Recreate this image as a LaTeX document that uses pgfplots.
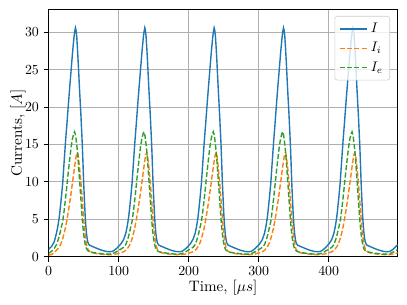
\documentclass[border=0pt]{standalone}
\usepackage{pgfplots}
\pgfplotsset{compat=1.18}
\usepackage{pgfplotstable}
\definecolor{tabblue}{HTML}{1F77B4}
\definecolor{taborange}{HTML}{FF7F0E}
\definecolor{tabgreen}{HTML}{2CA02C}
\pgfplotstableread{
t I Ii Ie
0 1.0 0.2 0.45
4 1.35 0.3 0.7
8 2.0 0.5 1.1
11 3.1 0.85 1.6
13 4.0 1.05 2.1
15 5.2 1.3 2.7
16 6.0 1.45 3.1
18 7.8 1.85 3.9
20 9.8 2.4 4.7
22 12.6 3.1 6.1
24 15.3 3.9 7.7
26 17.7 4.9 9.5
28 20.2 6.0 11.3
30 22.6 7.2 13.0
32 24.9 8.5 14.6
34 27.2 9.9 15.8
36 29.2 11.3 16.5
37 30.0 12.0 16.7
38.2 30.6 12.8 16.3
39 30.3 13.3 15.8
40 29.5 13.7 15.0
41 28.0 13.9 14.1
42 26.3 13.6 13.0
44 22.5 12.0 10.4
46 19.0 10.0 7.7
48 15.0 7.6 5.0
49 12.5 6.3 3.9
50 9.8 5.0 3.0
51 7.7 4.0 2.3
52 5.7 3.1 1.75
53 4.2 2.3 1.35
54 3.1 1.7 1.05
55 2.4 1.3 0.9
56 1.9 1.0 0.8
58 1.55 0.72 0.68
61 1.42 0.56 0.6
64 1.3 0.48 0.54
70 1.06 0.38 0.46
76 0.85 0.32 0.39
82 0.7 0.28 0.34
87 0.65 0.27 0.34
91 0.7 0.28 0.4
94 0.88 0.31 0.52
97 1.1 0.36 0.66
99.1 1.3 0.42 0.8
103.1 1.7 0.52 1.0
107.1 2.3 0.65 1.25
110.1 3.1 0.85 1.6
112.1 4.0 1.05 2.1
114.1 5.2 1.3 2.7
115.1 6.0 1.45 3.1
117.1 7.8 1.85 3.9
119.1 9.8 2.4 4.7
121.1 12.6 3.1 6.1
123.1 15.3 3.9 7.7
125.1 17.7 4.9 9.5
127.1 20.2 6.0 11.3
129.1 22.6 7.2 13.0
131.1 24.9 8.5 14.6
133.1 27.2 9.9 15.8
135.1 29.2 11.3 16.5
136.1 30.0 12.0 16.7
137.3 30.6 12.8 16.3
138.1 30.3 13.3 15.8
139.1 29.5 13.7 15.0
140.1 28.0 13.9 14.1
141.1 26.3 13.6 13.0
143.1 22.5 12.0 10.4
145.1 19.0 10.0 7.7
147.1 15.0 7.6 5.0
148.1 12.5 6.3 3.9
149.1 9.8 5.0 3.0
150.1 7.7 4.0 2.3
151.1 5.7 3.1 1.75
152.1 4.2 2.3 1.35
153.1 3.1 1.7 1.05
154.1 2.4 1.3 0.9
155.1 1.9 1.0 0.8
157.1 1.55 0.72 0.68
160.1 1.42 0.56 0.6
163.1 1.3 0.48 0.54
169.1 1.06 0.38 0.46
175.1 0.85 0.32 0.39
181.1 0.7 0.28 0.34
186.1 0.65 0.27 0.34
190.1 0.7 0.28 0.4
193.1 0.88 0.31 0.52
196.1 1.1 0.36 0.66
198.2 1.3 0.42 0.8
202.2 1.7 0.52 1.0
206.2 2.3 0.65 1.25
209.2 3.1 0.85 1.6
211.2 4.0 1.05 2.1
213.2 5.2 1.3 2.7
214.2 6.0 1.45 3.1
216.2 7.8 1.85 3.9
218.2 9.8 2.4 4.7
220.2 12.6 3.1 6.1
222.2 15.3 3.9 7.7
224.2 17.7 4.9 9.5
226.2 20.2 6.0 11.3
228.2 22.6 7.2 13.0
230.2 24.9 8.5 14.6
232.2 27.2 9.9 15.8
234.2 29.2 11.3 16.5
235.2 30.0 12.0 16.7
236.4 30.6 12.8 16.3
237.2 30.3 13.3 15.8
238.2 29.5 13.7 15.0
239.2 28.0 13.9 14.1
240.2 26.3 13.6 13.0
242.2 22.5 12.0 10.4
244.2 19.0 10.0 7.7
246.2 15.0 7.6 5.0
247.2 12.5 6.3 3.9
248.2 9.8 5.0 3.0
249.2 7.7 4.0 2.3
250.2 5.7 3.1 1.75
251.2 4.2 2.3 1.35
252.2 3.1 1.7 1.05
253.2 2.4 1.3 0.9
254.2 1.9 1.0 0.8
256.2 1.55 0.72 0.68
259.2 1.42 0.56 0.6
262.2 1.3 0.48 0.54
268.2 1.06 0.38 0.46
274.2 0.85 0.32 0.39
280.2 0.7 0.28 0.34
285.2 0.65 0.27 0.34
289.2 0.7 0.28 0.4
292.2 0.88 0.31 0.52
295.2 1.1 0.36 0.66
297.3 1.3 0.42 0.8
301.3 1.7 0.52 1.0
305.3 2.3 0.65 1.25
308.3 3.1 0.85 1.6
310.3 4.0 1.05 2.1
312.3 5.2 1.3 2.7
313.3 6.0 1.45 3.1
315.3 7.8 1.85 3.9
317.3 9.8 2.4 4.7
319.3 12.6 3.1 6.1
321.3 15.3 3.9 7.7
323.3 17.7 4.9 9.5
325.3 20.2 6.0 11.3
327.3 22.6 7.2 13.0
329.3 24.9 8.5 14.6
331.3 27.2 9.9 15.8
333.3 29.2 11.3 16.5
334.3 30.0 12.0 16.7
335.5 30.6 12.8 16.3
336.3 30.3 13.3 15.8
337.3 29.5 13.7 15.0
338.3 28.0 13.9 14.1
339.3 26.3 13.6 13.0
341.3 22.5 12.0 10.4
343.3 19.0 10.0 7.7
345.3 15.0 7.6 5.0
346.3 12.5 6.3 3.9
347.3 9.8 5.0 3.0
348.3 7.7 4.0 2.3
349.3 5.7 3.1 1.75
350.3 4.2 2.3 1.35
351.3 3.1 1.7 1.05
352.3 2.4 1.3 0.9
353.3 1.9 1.0 0.8
355.3 1.55 0.72 0.68
358.3 1.42 0.56 0.6
361.3 1.3 0.48 0.54
367.3 1.06 0.38 0.46
373.3 0.85 0.32 0.39
379.3 0.7 0.28 0.34
384.3 0.65 0.27 0.34
388.3 0.7 0.28 0.4
391.3 0.88 0.31 0.52
394.3 1.1 0.36 0.66
396.4 1.3 0.42 0.8
400.4 1.7 0.52 1.0
404.4 2.3 0.65 1.25
407.4 3.1 0.85 1.6
409.4 4.0 1.05 2.1
411.4 5.2 1.3 2.7
412.4 6.0 1.45 3.1
414.4 7.8 1.85 3.9
416.4 9.8 2.4 4.7
418.4 12.6 3.1 6.1
420.4 15.3 3.9 7.7
422.4 17.7 4.9 9.5
424.4 20.2 6.0 11.3
426.4 22.6 7.2 13.0
428.4 24.9 8.5 14.6
430.4 27.2 9.9 15.8
432.4 29.2 11.3 16.5
433.4 30.0 12.0 16.7
434.6 30.6 12.8 16.3
435.4 30.3 13.3 15.8
436.4 29.5 13.7 15.0
437.4 28.0 13.9 14.1
438.4 26.3 13.6 13.0
440.4 22.5 12.0 10.4
442.4 19.0 10.0 7.7
444.4 15.0 7.6 5.0
445.4 12.5 6.3 3.9
446.4 9.8 5.0 3.0
447.4 7.7 4.0 2.3
448.4 5.7 3.1 1.75
449.4 4.2 2.3 1.35
450.4 3.1 1.7 1.05
451.4 2.4 1.3 0.9
452.4 1.9 1.0 0.8
454.4 1.55 0.72 0.68
457.4 1.42 0.56 0.6
460.4 1.3 0.48 0.54
466.4 1.06 0.38 0.46
472.4 0.85 0.32 0.39
478.4 0.7 0.28 0.34
483.4 0.65 0.27 0.34
487.4 0.7 0.28 0.4
490.4 0.88 0.31 0.52
493.4 1.1 0.36 0.66
495.5 1.3 0.42 0.8
498.6 1.6 0.5 0.95
}\datatable
\begin{document}
\begin{tikzpicture}
\begin{axis}[
  name=ax,
  scale only axis,
  width=251.3pt, height=178.1pt,
  xmin=0, xmax=498.6, ymin=0, ymax=33.07,
  xtick={0,100,200,300,400},
  ytick={0,5,10,15,20,25,30},
  tick align=outside,
  xtick pos=bottom, ytick pos=left,
  major tick length=3.5pt,
  tick style={black, line width=0.8pt},
  axis line style={black, line width=0.8pt},
  grid=major,
  major grid style={color=black!31, line width=0.8pt},
  every axis x label/.style={at={(axis description cs:0.5,-0.1245)}, anchor=center, font=\fontsize{10.9}{13}\selectfont},
  every axis y label/.style={at={(axis description cs:-0.088,0.5)}, anchor=center, rotate=90, font=\fontsize{10.9}{13}\selectfont},
  xlabel={Time, [$\mu s$]},
  ylabel={Currents, [$A$]},
  legend cell align=left,
  legend image code/.code={\draw[#1, line width=0.9pt] plot coordinates {(0pt,0pt) (10pt,0pt) (20pt,0pt)};},
  legend style={at={(axis description cs:1,1)}, anchor=north east, xshift=-5.5pt, yshift=-4.8pt,
    draw=black!20, fill=white, fill opacity=0.8, draw opacity=1, text opacity=1, rounded corners=2pt,
    row sep=1.5pt, inner xsep=3pt, inner ysep=3pt,
    nodes={inner sep=2pt}},
]
\addplot[tabblue, line width=1pt] table[x=t, y=I] {\datatable};
\addlegendentry{$I$}
\addplot[taborange, line width=1pt, dash pattern=on 3.7pt off 1.6pt] table[x=t, y=Ii] {\datatable};
\addlegendentry{$I_i$}
\addplot[tabgreen, line width=1pt, dash pattern=on 3.7pt off 1.6pt] table[x=t, y=Ie] {\datatable};
\addlegendentry{$I_e$}
\end{axis}
\pgfresetboundingbox
\path ([xshift=-35.06pt,yshift=-34.78pt]ax.south west) rectangle ([xshift=6.7pt,yshift=6.7pt]ax.north east);
\end{tikzpicture}
\end{document}
